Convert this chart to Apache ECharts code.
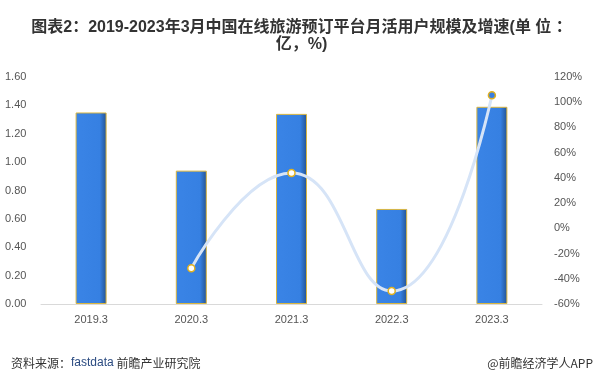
<!DOCTYPE html>
<html><head><meta charset="utf-8">
<script src="https://cdn.jsdelivr.net/npm/echarts@6/dist/echarts.min.js"></script>
<style>html,body{margin:0;padding:0;background:#fff}#c{width:603px;height:381px}</style>
</head><body><div id="c"></div>
<script>
const categories = ['2019.3','2020.3','2021.3','2022.3','2023.3'];
const users = [1.35, 0.94, 1.34, 0.67, 1.39];
const growth = [null, -31.6, 43.8, -49.7, 105.5];
const leftTicks = {min:0, max:1.6, interval:0.2};
const rightTicks = {min:-60, max:120, interval:20};

const titleFont = '"Liberation Sans","Noto Sans CJK SC",sans-serif';
const chart = echarts.init(document.getElementById('c'));
chart.setOption({
  animation:false,
  backgroundColor:'#fff',
  title:[{
    text:'图表2：2019-2023年3月中国在线旅游预订平台月活用户规模及增速(单 位 ：',
    left:'center', top:15,
    textStyle:{fontSize:16, fontWeight:'bold', color:'#333', fontFamily:titleFont}
  },{
    text:'亿，%)',
    left:'center', top:32,
    textStyle:{fontSize:16, fontWeight:'bold', color:'#333', fontFamily:titleFont}
  },{
    text:'资料来源：{b|fastdata} 前瞻产业研究院', left:6, top:352,
    textStyle:{fontSize:12, fontWeight:'normal', color:'#333', fontFamily:'"Noto Sans CJK SC",sans-serif',
      rich:{b:{fontSize:12, color:'#2a4a80', fontFamily:'"Liberation Sans",sans-serif'}}}
  },{
    text:'@前瞻经济学人APP', right:5, top:352,
    textStyle:{fontSize:12, fontWeight:'normal', color:'#333', fontFamily:'"Noto Sans CJK SC",sans-serif'}
  }],
  grid:{left:41, right:61, top:77, bottom:77},
  xAxis:{type:'category', data:categories,
    axisLine:{lineStyle:{color:'#d9d9d9'}}, axisTick:{show:false},
    axisLabel:{color:'#555', fontSize:11, margin:10, fontFamily:'"Liberation Sans",sans-serif'}},
  yAxis:[{type:'value', min:leftTicks.min, max:leftTicks.max, interval:leftTicks.interval,
    position:'left', splitLine:{show:false}, axisLine:{show:false}, axisTick:{show:false},
    axisLabel:{color:'#555', fontSize:11, margin:36, align:'left', formatter:v=>v.toFixed(2), fontFamily:'"Liberation Sans",sans-serif'}},
   {type:'value', min:rightTicks.min, max:rightTicks.max, interval:rightTicks.interval,
    position:'right', splitLine:{show:false}, axisLine:{show:false}, axisTick:{show:false},
    axisLabel:{color:'#555', fontSize:11, margin:12, formatter:v=>v+'%', fontFamily:'"Liberation Sans",sans-serif'}}],
  series:[{
    type:'bar', data:users, barWidth:31, yAxisIndex:0,
    itemStyle:{
      color:{type:'linear',x:0,y:0,x2:1,y2:0,colorStops:[
        {offset:0,color:'#3a84e6'},{offset:0.78,color:'#3680e2'},{offset:1,color:'#24528f'}]},
      borderColor:'#d8b540', borderWidth:1
    }
  },{
    type:'line', yAxisIndex:1, smooth:0.5,
    lineStyle:{color:'#d6e4f7', width:3},
    symbol:'circle', symbolSize:7,
    itemStyle:{color:'#fff', borderColor:'#e0b020', borderWidth:1.5},
    data: growth.map((v,i)=> i===growth.length-1 ? {value:v, itemStyle:{color:'#3a7fe0', borderColor:'#e0b020'}} : v)
  }]
});
</script></body></html>
